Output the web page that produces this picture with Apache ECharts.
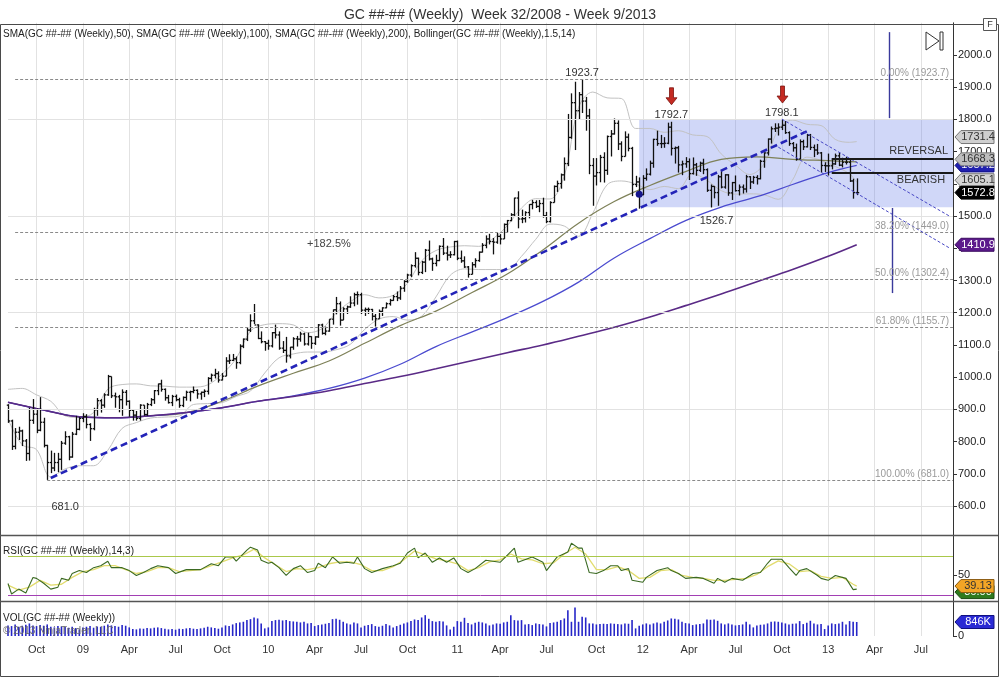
<!DOCTYPE html>
<html>
<head>
<meta charset="utf-8">
<title>GC Weekly</title>
<script src="https://cdn.jsdelivr.net/npm/echarts@6.0.0/dist/echarts.min.js"></script>
<style>
html,body{margin:0;padding:0;background:#ffffff;}
#chart{width:1000px;height:679px;}
</style>
</head>
<body>
<div id="chart"></div>
<script>
// ================= DATA =================
const titleText = 'GC ##-## (Weekly)  Week 32/2008 - Week 9/2013';
const legendText = 'SMA(GC ##-## (Weekly),50), SMA(GC ##-## (Weekly),100), SMA(GC ##-## (Weekly),200), Bollinger(GC ##-## (Weekly),1.5,14)';
const rsiTitle = 'RSI(GC ##-## (Weekly),14,3)';
const volTitle = 'VOL(GC ##-## (Weekly))';
const copyrightText = '\u00A9 2013 NinjaTrader, LLC';
const firstWeekEnd = [2008, 7, 8];     // Friday of week 32/2008
const weekSlots = 266;                   // weeks shown on the time axis
const monthNames = ['Jan','Feb','Mar','Apr','May','Jun','Jul','Aug','Sep','Oct','Nov','Dec'];
const mainTickValues = [600,700,800,900,1000,1100,1200,1300,1400,1500,1600,1700,1800,1900,2000];
const rsiTickValues = [50];
const volTickValues = [0];
const gridLevels = [600, 900, 1200, 1500, 1800];

// weekly [open, high, low, close]
const ohlc = [
// 2008
[913,916,858,864],[864,868,774,785],[785,842,776,829],[829,846,805,833],[833,837,786,802],
[802,808,740,763],[763,905,741,866],[866,932,855,885],[885,903,826,835],[835,938,832,860],
[860,874,782,788],[788,790,681,735],[735,772,702,718],[718,765,708,735],[735,765,705,745],
[745,802,712,795],[795,832,790,815],[815,818,742,752],[752,830,750,823],[823,880,820,838],
[838,876,835,872],
// 2009
[872,888,860,878],[878,885,841,853],[853,857,802,840],[840,905,835,899],[899,935,880,927],
[927,932,890,913],[913,950,905,945],[945,1007,942,1002],[1002,1002,935,942],[942,952,905,939],
[939,945,891,930],[930,962,880,953],[953,960,912,925],[925,928,877,897],[897,898,865,882],
[882,895,865,872],[872,916,865,913],[913,913,880,884],[884,920,880,915],[915,935,910,930],
[930,960,917,958],[958,980,944,979],[979,992,955,962],[962,965,927,936],[936,945,918,921],
[921,945,910,940],[940,946,925,930],[930,936,905,912],[912,940,907,937],[937,958,927,953],
[953,958,925,955],[955,971,950,959],[959,962,933,948],[948,955,930,953],[953,962,938,956],
[956,1000,946,996],[996,1011,986,1006],[1006,1026,996,1011],[1011,1018,983,991],[991,1013,990,1003],
[1003,1062,1003,1050],[1050,1071,1041,1052],[1052,1072,1050,1057],[1057,1064,1026,1045],[1045,1102,1040,1096],
[1096,1120,1090,1118],[1118,1154,1112,1146],[1146,1195,1140,1175],[1175,1227,1165,1162],[1162,1164,1118,1120],
[1120,1142,1105,1110],[1110,1112,1082,1105],
// 2010
[1105,1116,1085,1097],[1097,1140,1092,1138],[1138,1163,1120,1131],[1131,1142,1085,1090],[1090,1112,1075,1083],
[1083,1125,1045,1066],[1066,1094,1058,1093],[1093,1124,1085,1119],[1119,1128,1095,1118],[1118,1141,1110,1134],
[1134,1138,1098,1103],[1103,1138,1098,1126],[1126,1127,1088,1105],[1105,1127,1100,1125],[1125,1165,1122,1162],
[1162,1166,1132,1136],[1136,1157,1130,1143],[1143,1180,1141,1180],[1180,1210,1163,1209],[1209,1249,1195,1228],
[1228,1235,1160,1177],[1177,1217,1177,1212],[1212,1222,1196,1218],[1218,1251,1215,1230],[1230,1262,1220,1256],
[1256,1266,1225,1256],[1256,1262,1196,1208],[1208,1216,1190,1210],[1210,1216,1196,1210],[1210,1212,1176,1189],
[1189,1196,1157,1181],[1181,1210,1181,1204],[1204,1217,1190,1215],[1215,1232,1214,1228],[1228,1243,1222,1238],
[1238,1255,1237,1250],[1250,1266,1236,1246],[1246,1283,1240,1276],[1276,1301,1265,1297],[1297,1321,1293,1317],
[1317,1350,1311,1346],[1346,1388,1340,1369],[1369,1371,1316,1325],[1325,1361,1320,1357],[1357,1398,1326,1394],
[1394,1424,1362,1367],[1367,1371,1330,1353],[1353,1380,1344,1362],[1362,1409,1360,1406],[1406,1432,1379,1385],
[1385,1408,1362,1379],[1379,1391,1370,1380],[1380,1423,1378,1421],
// 2011
[1421,1424,1363,1369],[1369,1393,1355,1361],[1361,1375,1339,1342],[1342,1345,1309,1319],[1319,1357,1319,1349],
[1349,1369,1340,1362],[1362,1390,1358,1388],[1388,1416,1387,1409],[1409,1440,1400,1429],[1429,1445,1412,1421],
[1421,1432,1381,1419],[1419,1448,1414,1437],[1437,1444,1412,1429],[1429,1477,1429,1474],[1474,1488,1450,1486],
[1486,1509,1484,1504],[1504,1557,1500,1556],[1556,1577,1462,1491],[1491,1520,1478,1492],[1492,1515,1480,1511],
[1511,1537,1493,1536],[1536,1550,1521,1542],[1542,1549,1525,1530],[1530,1550,1512,1539],[1539,1557,1495,1501],
[1501,1513,1478,1483],[1483,1546,1480,1542],[1542,1595,1542,1592],[1592,1610,1575,1601],[1601,1632,1585,1628],
[1628,1682,1610,1663],[1663,1817,1655,1744],[1744,1881,1740,1852],[1852,1917,1705,1827],[1827,1885,1800,1877],
[1877,1923.7,1820,1857],[1857,1870,1765,1811],[1811,1833,1630,1657],[1657,1680,1532,1624],[1624,1680,1595,1635],
[1635,1690,1605,1682],[1682,1698,1604,1642],[1642,1750,1628,1747],[1747,1767,1685,1755],[1755,1803,1753,1788],
[1788,1797,1705,1724],[1724,1732,1670,1685],[1685,1763,1685,1745],[1745,1756,1701,1710],[1710,1715,1562,1598],
[1598,1625,1590,1606],[1606,1620,1523,1566],
// 2012
[1566,1627,1565,1617],[1617,1648,1610,1630],[1630,1672,1626,1664],[1664,1740,1650,1738],[1738,1765,1718,1725],
[1725,1752,1711,1725],[1725,1745,1712,1726],[1726,1790,1723,1776],[1776,1792.7,1688,1710],[1710,1716,1663,1712],
[1712,1718,1635,1659],[1659,1672,1627,1662],[1662,1683,1650,1669],[1669,1679,1612,1632],[1632,1682,1629,1659],
[1659,1665,1625,1642],[1642,1669,1637,1664],[1664,1678,1630,1644],[1644,1648,1575,1580],[1580,1598,1526.7,1592],
[1592,1593,1555,1573],[1573,1628,1532,1622],[1622,1642,1586,1590],[1590,1630,1585,1628],[1628,1630,1563,1572],
[1572,1606,1550,1604],[1604,1626,1576,1579],[1579,1598,1564,1590],[1590,1598,1570,1584],[1584,1628,1573,1622],
[1622,1624,1584,1606],[1606,1625,1600,1620],[1620,1627,1598,1616],[1616,1675,1614,1670],[1670,1698,1650,1696],
[1696,1741,1688,1739],[1739,1778,1725,1771],[1771,1788,1761,1773],[1773,1788,1750,1776],[1776,1798.1,1767,1782],
[1782,1795,1755,1759],[1759,1763,1718,1725],[1725,1730,1700,1712],[1712,1725,1672,1677],[1677,1738,1677,1731],
[1731,1737,1705,1715],[1715,1755,1713,1751],[1751,1755,1705,1713],[1713,1722,1683,1705],[1705,1724,1690,1696],
[1696,1699,1635,1657],[1657,1667,1637,1656],
// 2013
[1656,1694,1626,1656],[1656,1679,1645,1662],[1662,1694,1659,1687],[1687,1697,1655,1658],[1658,1681,1651,1667],
[1667,1684,1660,1667],[1667,1675,1606,1609],[1609,1616,1554,1573],[1573,1617,1565,1572.8]
];

// weekly volume, thousands of contracts
const volumeK = [
640,600,700,560,620,680,760,640,600,660,
620,700,560,520,600,580,540,500,560,480,
400,520,560,600,500,580,560,620,700,640,
600,560,660,620,520,420,400,460,440,480,
460,500,520,480,440,400,420,380,440,420,
460,480,440,420,460,500,560,520,480,440,
520,640,600,700,780,820,860,960,1020,1120,
1060,760,460,520,900,960,980,940,960,900,
880,860,820,860,760,780,600,660,700,740,
780,1020,1040,980,860,760,700,820,760,520,
620,660,720,600,560,620,720,640,520,600,
680,760,820,900,1000,960,1120,1260,1040,900,
860,900,880,640,400,560,900,860,1100,780,
700,800,860,820,760,640,700,760,740,820,
860,1260,960,940,960,700,720,660,760,720,
700,580,780,820,860,960,1060,1560,860,1720,
860,1160,1120,760,760,700,720,740,720,760,
740,720,700,760,740,960,460,620,700,760,
700,760,820,760,860,940,1060,1040,1000,860,
780,760,660,700,720,760,1000,980,1000,920,
760,700,760,700,640,660,700,860,700,520,
640,680,700,760,860,880,860,820,760,700,
740,760,900,720,800,920,760,700,720,420,
640,760,720,760,860,700,900,860,846
];

// moving averages and Bollinger bands, [week, value]
const sma50 = [[0,922],[10,898],[20,877],[30,874],[40,880],[50,890],[60,925],[70,972],[80,1012],[90,1050],[100,1105],[110,1160],[120,1205],[130,1262],[140,1320],[150,1395],[160,1478],[170,1545],[180,1595],[190,1638],[200,1676],[210,1684],[220,1676],[230,1672],[238,1668.3]];
const sma100 = [[0,922],[10,898],[20,877],[30,874],[40,880],[50,890],[60,905],[70,925],[80,942],[90,965],[100,997],[110,1040],[120,1095],[130,1140],[140,1185],[150,1235],[160,1295],[170,1370],[180,1430],[190,1486],[200,1528],[210,1560],[220,1598],[230,1635],[238,1657.2]];
const sma200 = [[0,922],[10,898],[20,877],[30,874],[40,880],[50,890],[60,905],[70,925],[80,940],[90,958],[100,980],[110,1002],[120,1026],[130,1051],[140,1076],[150,1100],[160,1127],[170,1155],[180,1187],[190,1222],[200,1258],[210,1296],[220,1334],[230,1375],[238,1410.9]];
const bbUpper = [[0,962],[4,965],[8,945],[12,925],[16,880],[20,875],[24,890],[28,963],[32,977],[36,979],[40,973],[44,972],[48,969],[52,969],[56,976],[60,1009],[64,1058],[68,1143],[72,1163],[76,1166],[80,1162],[84,1138],[88,1150],[92,1199],[96,1234],[100,1256],[104,1246],[108,1254],[112,1291],[116,1361],[120,1393],[124,1404],[128,1408],[132,1406],[136,1430],[140,1470],[144,1525],[148,1554],[152,1553],[156,1625],[160,1837],[164,1885],[168,1867],[172,1865],[176,1772],[180,1772],[184,1760],[188,1765],[192,1752],[196,1747],[200,1693],[204,1658],[208,1629],[212,1662],[216,1768],[220,1798],[224,1785],[228,1781],[232,1738],[236,1729],[238,1731.4]];
const bbLower = [[0,870],[4,790],[8,775],[12,690],[16,715],[20,725],[24,725],[28,773],[32,841],[36,859],[40,873],[44,876],[48,879],[52,915],[56,918],[60,921],[64,940],[68,957],[72,1013],[76,1060],[80,1072],[84,1078],[88,1078],[92,1085],[96,1102],[100,1148],[104,1180],[108,1188],[112,1177],[116,1189],[120,1249],[124,1316],[128,1336],[132,1334],[136,1334],[140,1334],[144,1375],[148,1428],[152,1475],[156,1469],[160,1437],[164,1509],[168,1597],[172,1609],[176,1600],[180,1582],[184,1592],[188,1585],[192,1632],[196,1611],[200,1579],[204,1568],[208,1569],[212,1566],[216,1552],[220,1612],[224,1683],[228,1673],[232,1654],[236,1631],[238,1605.1]];

// RSI(14,3): [week, value]
const rsi = [[0,41.7],[1,31],[3,36],[5,32],[7,48],[8,47],[10,42],[12,36],[14,38],[15,47],[17,45],[18,52],[20,55],[22,53],[24,58],[26,60],[28,64.5],[29,58],[32,58],[34,55],[36,50],[38,53],[40,57],[42,60],[45,58],[47,52],[50,56],[54,56],[57,62],[59,60],[61,69],[63,69],[64,64.6],[67,76],[68,79],[70,76],[71,65.6],[73,62.5],[74,63.5],[76,58],[78,50],[80,57],[82,60],[84,53],[86,55],[87,62.5],[89,58],[91,69],[93,62.5],[95,63.5],[97,62.5],[98,69],[100,57],[102,53],[105,57],[108,60],[110,62.5],[112,73],[114,78],[115,68],[117,73],[119,63.5],[121,68],[123,63.5],[125,68],[127,57],[129,53],[131,57],[134,65.6],[138,63.5],[142,78],[143,63.5],[147,69],[150,63.5],[151,55],[154,69],[157,74],[158,83],[160,78],[161,78],[163,53],[165,52],[167,55],[169,60],[171,60],[172,55],[174,57],[175,45],[178,43],[179,48],[182,55],[185,58],[186,55],[188,52],[190,47],[193,48],[195,47],[198,42],[199,47],[201,43],[203,47],[206,45],[209,52],[211,53],[213,62.5],[214,66.6],[217,66.6],[219,58],[221,50],[222,55],[224,57],[227,50],[228,47],[230,45],[232,50],[235,47],[237,35.5],[238,36]];
const rsiSignal = [[0,40],[3,35],[6,38],[9,45],[12,40],[15,41],[18,48],[21,54],[24,56],[27,60],[30,60],[33,56],[36,52],[39,54],[42,58],[45,58],[48,54],[51,55],[54,56],[57,60],[60,64],[63,68],[66,71],[69,77],[72,68],[75,61],[78,54],[81,57],[84,56],[87,58],[90,62],[93,64],[96,64],[99,61],[102,55],[105,55],[108,59],[111,66],[114,75],[117,71],[120,67],[123,65],[126,62],[129,55],[132,58],[135,64],[138,66],[141,72],[144,67],[147,66],[150,62],[153,63],[156,72],[159,79],[162,72],[165,56],[168,56],[171,59],[174,55],[177,47],[180,48],[183,55],[186,56],[189,50],[192,48],[195,47],[198,45],[201,45],[204,46],[207,47],[210,51],[213,59],[216,65],[219,62],[222,54],[225,55],[228,49],[231,47],[234,48],[237,41],[238,39.13]];
const rsiLevels = [70, 30];

// Fibonacci retracement 681.0 -> 1923.7
const fibPct = ['0.00%','38.20%','50.00%','61.80%','100.00%'];
const fibValues = [1923.7, 1449.0, 1302.4, 1155.7, 681.0];
const fibStartWeek = [2, 2, 2, 2, 11];

// drawings: [week, price]
const trendLine = [[12, 687], [224, 1763]];
const channelUpper = [[217, 1801], [264, 1500]];
const channelLower = [[216, 1714], [264, 1401]];
const projectionUp = [[247, 2071], [247, 1804]];
const projectionDown = [[248, 1525], [248, 1261]];
const boxWeeks = [177, 265];
const boxPrices = [1800, 1527];
const levelWeeks = [231, 265];
const reversalLevel = 1679;
const bearishLevel = 1634;
const levelNames = ['REVERSAL', 'BEARISH'];
const highLabels = [[161, 1923.7], [186, 1792.7], [217, 1798.1]];
const lowLabels = [[197, 1526.7], [11, 681.0]];
const arrowWeeks = [[186, 1792.7], [217, 1798.1]];
const gainNote = [90, 1413, '+182.5%'];
const anchorDot = [177, 1568];

// ================= CHART =================
const FONT = '"Liberation Sans", Arial, sans-serif';
const cats = [];
(function () {
  const t0 = Date.UTC(firstWeekEnd[0], firstWeekEnd[1], firstWeekEnd[2]);
  for (let k = 0; k < weekSlots; k++) {
    cats.push(new Date(t0 + k * 7 * 864e5).toISOString().slice(0, 10));
  }
})();
function isQuarterStart(idx) {
  const s = cats[idx]; if (!s) return false;
  const m = +s.slice(5, 7), d = +s.slice(8, 10);
  return (m === 1 || m === 4 || m === 7 || m === 10) && d <= 7;
}
function fmtLabel(s) {
  const m = +s.slice(5, 7);
  return m === 1 ? s.slice(2, 4) : monthNames[m - 1];
}

const chart = echarts.init(document.getElementById('chart'), null, { renderer: 'canvas' });

const pxPer100 = 451 / 14;
const mainTop = 55 - pxPer100;           // 2100 at top
const mainHeight = 16 * pxPer100;        // 500..2100
const gridL = 8, gridR = 47;

function xAx(gi, showLabel) {
  return {
    type: 'category', gridIndex: gi, data: cats, boundaryGap: false,
    axisLine: { show: false }, axisTick: { show: false },
    axisLabel: showLabel ? {
      show: true, interval: (i) => isQuarterStart(i), formatter: (v) => fmtLabel(v),
      color: '#333', fontSize: 11, margin: 8, fontFamily: FONT
    } : { show: false },
    splitLine: { show: true, interval: (i) => isQuarterStart(i), lineStyle: { color: '#e2e2e2', width: 1 } }
  };
}
function yAx(gi, min, max, ticks, fmt) {
  return {
    type: 'value', gridIndex: gi, position: 'right', min: min, max: max,
    axisLine: { show: true, lineStyle: { color: '#333', width: 1 } },
    axisTick: { show: true, length: 4, customValues: ticks, lineStyle: { color: '#333' } },
    axisLabel: { show: true, customValues: ticks, formatter: fmt, color: '#222', fontSize: 11, margin: 5, fontFamily: FONT },
    splitLine: { show: false }
  };
}

const markLineData = [];
gridLevels.forEach(v => markLineData.push({ yAxis: v, lineStyle: { color: '#e2e2e2', type: 'solid', width: 1 } }));
fibValues.forEach((v, k) => markLineData.push([
  { coord: [fibStartWeek[k], v], lineStyle: { color: '#8a8a8a', type: [3, 2], width: 1 } },
  { coord: [weekSlots - 1, v] }
]));

function seg(a, style) { return [{ coord: a[0], lineStyle: style }, { coord: a[1] }]; }
const drawLines = [
  seg(trendLine, { color: '#2424b8', width: 2.6, type: [7, 4] }),
  seg(channelUpper, { color: '#4646c4', width: 1, type: [3, 2] }),
  seg(channelLower, { color: '#4646c4', width: 1, type: [3, 2] }),
  seg(projectionUp, { color: '#3a3a9c', width: 1.4, type: 'solid' }),
  seg(projectionDown, { color: '#3a3a9c', width: 1.4, type: 'solid' }),
  seg([[levelWeeks[0], reversalLevel], [levelWeeks[1], reversalLevel]], { color: '#1a1a1a', width: 2, type: 'solid' }),
  seg([[levelWeeks[0], bearishLevel], [levelWeeks[1], bearishLevel]], { color: '#1a1a1a', width: 2, type: 'solid' })
];

const option = {
  animation: false,
  backgroundColor: '#ffffff',
  textStyle: { fontFamily: FONT },
  title: { text: titleText, left: 'center', top: 3, textStyle: { fontSize: 14, fontWeight: 'normal', color: '#333', fontFamily: FONT } },
  grid: [
    { left: gridL, right: gridR, top: mainTop, height: mainHeight, outerBoundsMode: 'none' },
    { left: gridL, right: gridR, top: 535, height: 66, outerBoundsMode: 'none' },
    { left: gridL, right: gridR, top: 601, height: 35, outerBoundsMode: 'none' }
  ],
  xAxis: [xAx(0, false), xAx(1, false), xAx(2, true)],
  yAxis: [
    yAx(0, 500, 2100, mainTickValues, v => (v < 600 || v > 2000) ? '' : v.toFixed(1)),
    yAx(1, 23.8, 91.5, rsiTickValues, v => v === 50 ? '50' : ''),
    yAx(2, 0, 2115, volTickValues, v => v === 0 ? '0' : '')
  ],
  series: [
    { // box, grid and fibonacci lines
      type: 'line', xAxisIndex: 0, yAxisIndex: 0, z: 1, data: [[0, null]], showSymbol: false, silent: true,
      markArea: { silent: true, itemStyle: { color: 'rgba(98,124,232,0.30)' },
        data: [[{ coord: [boxWeeks[0], boxPrices[0]] }, { coord: [boxWeeks[1], boxPrices[1]] }]] },
      markLine: { silent: true, symbol: ['none', 'none'], label: { show: false }, data: markLineData }
    },
    { type: 'line', xAxisIndex: 0, yAxisIndex: 0, z: 2, data: bbUpper, showSymbol: false, smooth: 0.35, lineStyle: { color: '#c2c2c2', width: 1 } },
    { type: 'line', xAxisIndex: 0, yAxisIndex: 0, z: 2, data: bbLower, showSymbol: false, smooth: 0.35, lineStyle: { color: '#c2c2c2', width: 1 } },
    { type: 'line', xAxisIndex: 0, yAxisIndex: 0, z: 2, data: sma50, showSymbol: false, smooth: 0.4, lineStyle: { color: '#7e8158', width: 1.2 } },
    { type: 'line', xAxisIndex: 0, yAxisIndex: 0, z: 2, data: sma100, showSymbol: false, smooth: 0.4, lineStyle: { color: '#4b4bcf', width: 1.3 } },
    { type: 'line', xAxisIndex: 0, yAxisIndex: 0, z: 2, data: sma200, showSymbol: false, smooth: 0.4, lineStyle: { color: '#5a2a86', width: 1.6 } },
    { // OHLC bars
      type: 'custom', xAxisIndex: 0, yAxisIndex: 0, z: 3, clip: false,
      data: ohlc.map((d, i) => [i, d[0], d[1], d[2], d[3]]),
      encode: { x: 0, y: [1, 2, 3, 4] },
      renderItem: function (params, api) {
        const i = api.value(0);
        const pO = api.coord([i, api.value(1)]);
        const pH = api.coord([i, api.value(2)]);
        const pL = api.coord([i, api.value(3)]);
        const pC = api.coord([i, api.value(4)]);
        const x = Math.round(pH[0]) + 0.5, t = 1.7;
        const st = { stroke: '#101010', lineWidth: 1.3 };
        return { type: 'group', children: [
          { type: 'line', shape: { x1: x, y1: pH[1], x2: x, y2: pL[1] }, style: st },
          { type: 'line', shape: { x1: x - t, y1: pO[1], x2: x, y2: pO[1] }, style: st },
          { type: 'line', shape: { x1: x, y1: pC[1], x2: x + t, y2: pC[1] }, style: st }
        ] };
      }
    },
    { // drawings
      type: 'line', xAxisIndex: 0, yAxisIndex: 0, z: 4, data: [[0, null]], showSymbol: false, silent: true,
      markLine: { silent: true, symbol: ['none', 'none'], label: { show: false }, data: drawLines },
      markPoint: { silent: true, symbol: 'circle', symbolSize: 7, itemStyle: { color: '#14148a' }, label: { show: false },
        data: [{ coord: anchorDot }] }
    },
    // RSI
    { type: 'line', xAxisIndex: 1, yAxisIndex: 1, z: 2, data: rsiSignal, showSymbol: false, lineStyle: { color: '#e2dc6e', width: 1.3 },
      markLine: { silent: true, symbol: ['none', 'none'], label: { show: false },
        data: [{ yAxis: rsiLevels[0], lineStyle: { color: '#aac84a', type: 'solid', width: 1 } },
               { yAxis: rsiLevels[1], lineStyle: { color: '#a23fb4', type: 'solid', width: 1 } }] } },
    { type: 'line', xAxisIndex: 1, yAxisIndex: 1, z: 3, data: rsi, showSymbol: false, lineStyle: { color: '#3b6a22', width: 1.1 } },
    // Volume
    { type: 'bar', xAxisIndex: 2, yAxisIndex: 2, z: 2, data: volumeK, barWidth: 1.6, itemStyle: { color: '#2626c8' }, silent: true }
  ]
};
chart.setOption(option);

// ---------- annotations positioned through the chart's scales ----------
const P = (i, v, g) => chart.convertToPixel({ gridIndex: g || 0 }, [i, v]);
const Y = (v, a) => chart.convertToPixel({ yAxisIndex: a || 0 }, v);
function txt(x, y, text, opt) {
  opt = opt || {};
  return { type: 'text', x: x, y: y, z: opt.z || 60, silent: true,
    style: { text: text, fill: opt.color || '#333', font: (opt.size || 11) + 'px ' + FONT,
      textAlign: opt.align || 'center', align: opt.align || 'center',
      textVerticalAlign: 'middle', verticalAlign: 'middle' } };
}
function tag(y, text, fill, color, stroke, z) {
  const x0 = 955, x1 = 961, x2 = 994, h = 6.5;
  return [
    { type: 'polygon', z: z, silent: true, shape: { points: [[x0, y], [x1, y - h], [x2, y - h], [x2, y + h], [x1, y + h]] },
      style: { fill: fill, stroke: stroke, lineWidth: 1 } },
    { type: 'text', x: (x1 + x2) / 2 + 0.5, y: y, z: z + 1, silent: true,
      style: { text: text, fill: color, font: '11px ' + FONT, textAlign: 'center', align: 'center', textVerticalAlign: 'middle', verticalAlign: 'middle' } }
  ];
}

const g = [];
// frame and panel separators
g.push({ type: 'rect', z: 50, silent: true, shape: { x: 0.5, y: 24.5, width: 998, height: 652 }, style: { fill: 'none', stroke: '#4a4a4a', lineWidth: 1 } });
g.push({ type: 'line', z: 50, silent: true, shape: { x1: 0, y1: 535.5, x2: 998, y2: 535.5 }, style: { stroke: '#555', lineWidth: 1.6 } });
g.push({ type: 'line', z: 50, silent: true, shape: { x1: 0, y1: 601.5, x2: 998, y2: 601.5 }, style: { stroke: '#555', lineWidth: 1.6 } });

// panel captions
g.push(txt(3, 34, legendText, { align: 'left', size: 10, color: '#222' }));
g.push(txt(3, 551, rsiTitle, { align: 'left', size: 10, color: '#222' }));
g.push(txt(3, 618, volTitle, { align: 'left', size: 10, color: '#222' }));
g.push(txt(3, 631, copyrightText, { align: 'left', size: 10, color: '#6a6a6a' }));

// Fibonacci labels
fibValues.forEach((v, k) => {
  g.push(txt(949, Y(v) - 6, fibPct[k] + ' (' + v.toFixed(1) + ')', { align: 'right', size: 10, color: '#9a9a9a' }));
});

// high / low labels
highLabels.forEach(([i, v]) => { const p = P(i, v); g.push(txt(p[0], p[1] - 7, v.toFixed(1))); });
(function () {
  const a = P(lowLabels[0][0], lowLabels[0][1]); g.push(txt(a[0] + 6, a[1] + 13, lowLabels[0][1].toFixed(1)));
  const b = P(lowLabels[1][0], lowLabels[1][1]); g.push(txt(b[0] + 18, b[1] + 27, lowLabels[1][1].toFixed(1)));
  const c = P(gainNote[0], gainNote[1]); g.push(txt(c[0], c[1], gainNote[2], { color: '#444' }));
})();

// red arrows
arrowWeeks.forEach(([i, v]) => {
  const p = P(i, v); const x = Math.round(p[0]) + 0.5, ty = p[1] - 17;
  g.push({ type: 'polygon', z: 60, silent: true,
    shape: { points: [[x - 2, ty - 17], [x + 2, ty - 17], [x + 2, ty - 7], [x + 5.5, ty - 7], [x, ty], [x - 5.5, ty - 7], [x - 2, ty - 7]] },
    style: { fill: '#c42a22', stroke: '#7a1410', lineWidth: 0.8 } });
});

// level captions
(function () {
  const yr = Y(reversalLevel), yb = Y(bearishLevel);
  g.push(txt(948, yr - 7, levelNames[0], { align: 'right', color: '#333' }));
  g.push(txt(921, yb + 7, levelNames[1], { color: '#333' }));
})();

// toolbar icons
g.push({ type: 'polygon', z: 60, silent: true, shape: { points: [[926, 32], [939, 41], [926, 50]] }, style: { fill: '#fff', stroke: '#333', lineWidth: 1 } });
g.push({ type: 'rect', z: 60, silent: true, shape: { x: 940, y: 32, width: 3, height: 18 }, style: { fill: '#fff', stroke: '#333', lineWidth: 1 } });
g.push({ type: 'rect', z: 60, silent: true, shape: { x: 983.5, y: 18.5, width: 13, height: 12 }, style: { fill: '#fff', stroke: '#555', lineWidth: 1 } });
g.push(txt(990, 25, 'F', { size: 9, color: '#333', z: 61 }));

// value tags on the price axis
const last = ohlc[ohlc.length - 1][3];
[
  [bbUpper[bbUpper.length - 1][1], -4.5, '#cfcfcf', '#333', '#777'],
  [sma100[sma100.length - 1][1], 0, '#2020b0', '#fff', '#101080'],
  [sma50[sma50.length - 1][1], -2.5, '#bdbdbd', '#333', '#777'],
  [bbLower[bbLower.length - 1][1], -2, '#d4d4d4', '#333', '#777'],
  [last, 0, '#000', '#fff', '#000'],
  [sma200[sma200.length - 1][1], 0, '#5c1a8c', '#fff', '#3a0a60']
].forEach((t, k) => { tag(Y(t[0]) + t[1], t[0].toFixed(1), t[2], t[3], t[4], 100 + k * 2).forEach(e => g.push(e)); });

// RSI and volume tags
tag(Y(rsi[rsi.length - 1][1], 1) + 3, rsi[rsi.length - 1][1].toFixed(2), '#2f7a1e', '#fff', '#1a4a10', 120).forEach(e => g.push(e));
tag(Y(rsiSignal[rsiSignal.length - 1][1], 1), rsiSignal[rsiSignal.length - 1][1].toFixed(2), '#f2a526', '#333', '#8a5a10', 122).forEach(e => g.push(e));
tag(Y(volumeK[volumeK.length - 1], 2), volumeK[volumeK.length - 1] + 'K', '#2a2ad4', '#fff', '#101080', 124).forEach(e => g.push(e));

chart.setOption({ graphic: { elements: g } });
</script>
</body>
</html>
